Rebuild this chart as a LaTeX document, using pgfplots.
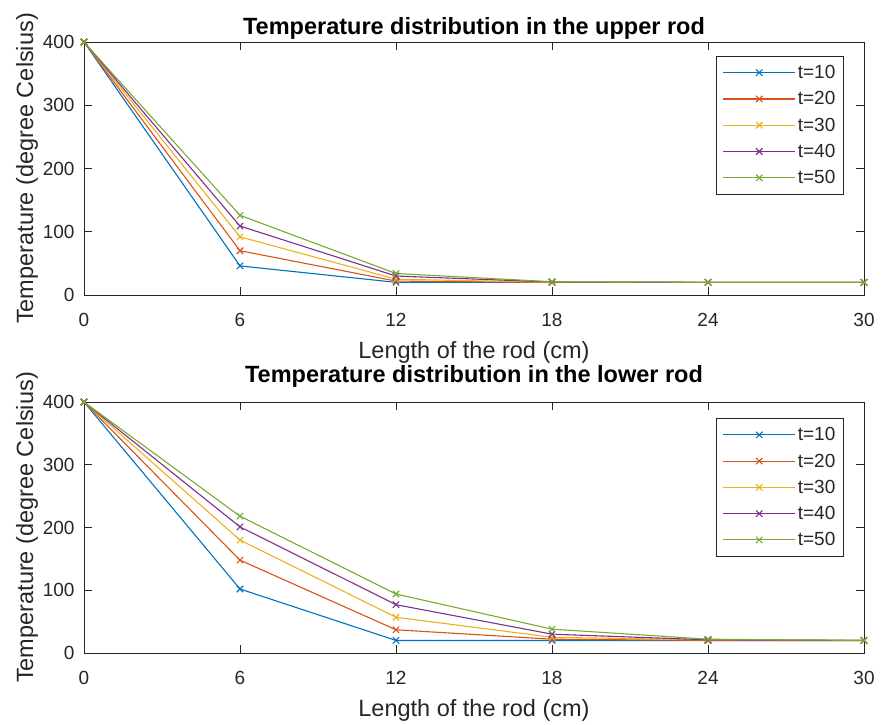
\documentclass[border=0pt]{standalone}
\usepackage{fontspec}
\setmainfont{Liberation Sans}
\usepackage{pgfplots}
\pgfplotsset{compat=1.18}
\definecolor{c1}{rgb}{0,0.447,0.741}
\definecolor{c2}{rgb}{0.85,0.325,0.098}
\definecolor{c3}{rgb}{0.929,0.694,0.125}
\definecolor{c4}{rgb}{0.494,0.184,0.556}
\definecolor{c5}{rgb}{0.466,0.674,0.188}
\definecolor{axcol}{rgb}{0.15,0.15,0.15}
\pgfplotsset{
  rodstyle/.style={
    scale only axis, width=780pt,
    xmin=0, xmax=30, ymin=0, ymax=400,
    xtick={0,6,...,30}, ytick={0,100,...,400},
    tick align=inside, major tick length=8pt,
    axis line style={draw=axcol, line width=0.8pt},
    tick style={draw=axcol, line width=0.8pt},
    ticklabel style={font=\fontsize{19}{19}\selectfont, text=axcol},
    xticklabel style={yshift=-15pt},
    yticklabel style={xshift=-6pt},
    /pgf/number format/assume math mode=true,
    xlabel={Length of the rod (cm)},
    ylabel={Temperature (degree Celsius)},
    label style={font=\fontsize{23.5}{23.5}\selectfont, text=axcol},
    xlabel style={yshift=-8pt},
    ylabel style={yshift=-2pt},
    title style={font=\bfseries\fontsize{23.5}{23.5}\selectfont},
    legend style={anchor=north east, draw=axcol, line width=0.8pt,
      font=\fontsize{19}{19}\selectfont, text=axcol,
      row sep=7.5pt, inner xsep=6pt, inner ysep=7pt},
    legend cell align=left,
    legend image code/.code={\draw[line width=1.1pt, mark repeat=2, mark phase=2] plot coordinates {(0pt,0pt) (36pt,0pt) (72pt,0pt)};},
    every axis plot/.append style={line width=1.1pt, mark=x, mark size=4.5pt, mark options={line width=1.1pt}},
    cycle list={{c1},{c2},{c3},{c4},{c5}},
  }
}
\begin{document}
\begin{tikzpicture}[x=1pt,y=1pt]
\path[use as bounding box] (0,0) rectangle (881,724);
\begin{axis}[rodstyle, height=253pt, at={(84pt,429pt)}, anchor=south west,
  title={Temperature distribution in the upper rod},
  title style={yshift=-7pt},
  legend style={at={(0.974,0.945)}}]
\addplot coordinates {(0,400) (6,46) (12,20) (18,20) (24,20) (30,20)};
\addplot coordinates {(0,400) (6,70) (12,22) (18,20) (24,20) (30,20)};
\addplot coordinates {(0,400) (6,92) (12,25) (18,20) (24,20) (30,20)};
\addplot coordinates {(0,400) (6,109) (12,30) (18,20.5) (24,20) (30,20)};
\addplot coordinates {(0,400) (6,126) (12,34) (18,21) (24,20) (30,20)};
\legend{t=10,t=20,t=30,t=40,t=50}
\end{axis}
\begin{axis}[rodstyle, height=251pt, at={(84pt,71pt)}, anchor=south west,
  title={Temperature distribution in the lower rod},
  title style={yshift=5pt},
  legend style={at={(0.974,0.936)}}]
\addplot coordinates {(0,400) (6,102) (12,20) (18,20) (24,20) (30,20)};
\addplot coordinates {(0,400) (6,148) (12,37) (18,22) (24,20) (30,20)};
\addplot coordinates {(0,400) (6,180) (12,57) (18,25) (24,21) (30,20)};
\addplot coordinates {(0,400) (6,201) (12,77) (18,30) (24,21) (30,20)};
\addplot coordinates {(0,400) (6,218) (12,94) (18,38) (24,22) (30,20)};
\legend{t=10,t=20,t=30,t=40,t=50}
\end{axis}
\end{tikzpicture}
\end{document}
